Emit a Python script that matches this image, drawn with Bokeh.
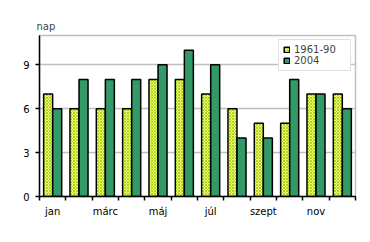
from bokeh.plotting import figure
from bokeh.models import FixedTicker, Range1d, Legend, LegendItem, ColumnDataSource
from bokeh.embed import file_html
from bokeh.resources import INLINE

months = ["jan", "febr", "márc", "ápr", "máj", "jún", "júl", "aug", "szept", "okt", "nov", "dec"]
normal_1961_90 = [7, 6, 6, 6, 8, 8, 7, 6, 5, 5, 7, 7]
year_2004 = [6, 8, 8, 8, 9, 10, 9, 4, 4, 8, 7, 6]
shown_labels = ["jan", "márc", "máj", "júl", "szept", "nov"]
y_ticks = [0, 3, 6, 9]

x = list(range(1, len(months) + 1))
off = 0.172
w = 0.342
src = ColumnDataSource(dict(
    x1=[v - off for v in x], x2=[v + off for v in x],
    a=normal_1961_90, b=year_2004))

p = figure(width=370, height=242, output_backend="svg", toolbar_location=None,
           x_range=Range1d(0.5, 12.5), y_range=Range1d(0, 11),
           min_border_left=39, min_border_right=15, min_border_top=35, min_border_bottom=46,
           title="nap")
p.title.text_font = "DejaVu Sans"
p.title.text_font_size = "10px"
p.title.text_font_style = "normal"
p.title.align = "left"
p.title.offset = -3
p.title.standoff = 7

r1 = p.vbar(x="x1", top="a", width=w, source=src, fill_color="#eef884",
            hatch_pattern="diagonal_cross", hatch_color="#b0d810", hatch_scale=3, hatch_weight=1,
            line_color="black", line_width=1.5)
r2 = p.vbar(x="x2", top="b", width=w, source=src, fill_color="#339966",
            line_color="black", line_width=1.5)

p.background_fill_color = "white"
p.outline_line_color = "#c0c0c0"
p.outline_line_width = 1.5
p.xgrid.visible = False
p.ygrid.grid_line_color = "#c0c0c0"
p.ygrid.grid_line_width = 1.5
p.ygrid.ticker = FixedTicker(ticks=[3, 6, 9])

label_pos = [x[months.index(m)] for m in shown_labels]
p.xaxis.ticker = FixedTicker(ticks=label_pos, minor_ticks=[v + 0.5 for v in range(0, 13)])
p.xaxis.major_label_overrides = {pos: lab for pos, lab in zip(label_pos, shown_labels)}
p.xaxis.major_tick_line_color = None
p.xaxis.minor_tick_line_color = "black"
p.xaxis.minor_tick_line_width = 1.5
p.xaxis.minor_tick_out = 4
p.xaxis.minor_tick_in = 0
p.xaxis.major_label_standoff = 3

p.yaxis.ticker = FixedTicker(ticks=y_ticks)
p.yaxis.minor_tick_line_color = None
p.yaxis.major_tick_out = 4
p.yaxis.major_tick_in = 0
p.yaxis.major_tick_line_width = 1.5
p.yaxis.major_label_standoff = 6

for ax in (p.xaxis[0], p.yaxis[0]):
    ax.axis_line_color = "black"
    ax.axis_line_width = 1.5
    ax.major_label_text_font = "DejaVu Sans"
    ax.major_label_text_font_size = "10px"
    ax.major_label_text_color = "black"

legend = Legend(items=[LegendItem(label="1961-90", renderers=[r1]),
                       LegendItem(label="2004", renderers=[r2])],
                location="top_right")
legend.label_text_font = "DejaVu Sans"
legend.label_text_font_size = "10px"
legend.glyph_width = 7
legend.glyph_height = 7
legend.label_height = 9
legend.label_width = 52
legend.label_standoff = 4
legend.spacing = 0
legend.padding = 4
legend.margin = 4
legend.border_line_color = "#c0c0c0"
legend.border_line_width = 1.5
legend.background_fill_color = "white"
legend.background_fill_alpha = 1
p.add_layout(legend)

open("out.html", "w").write(file_html(p, INLINE))
